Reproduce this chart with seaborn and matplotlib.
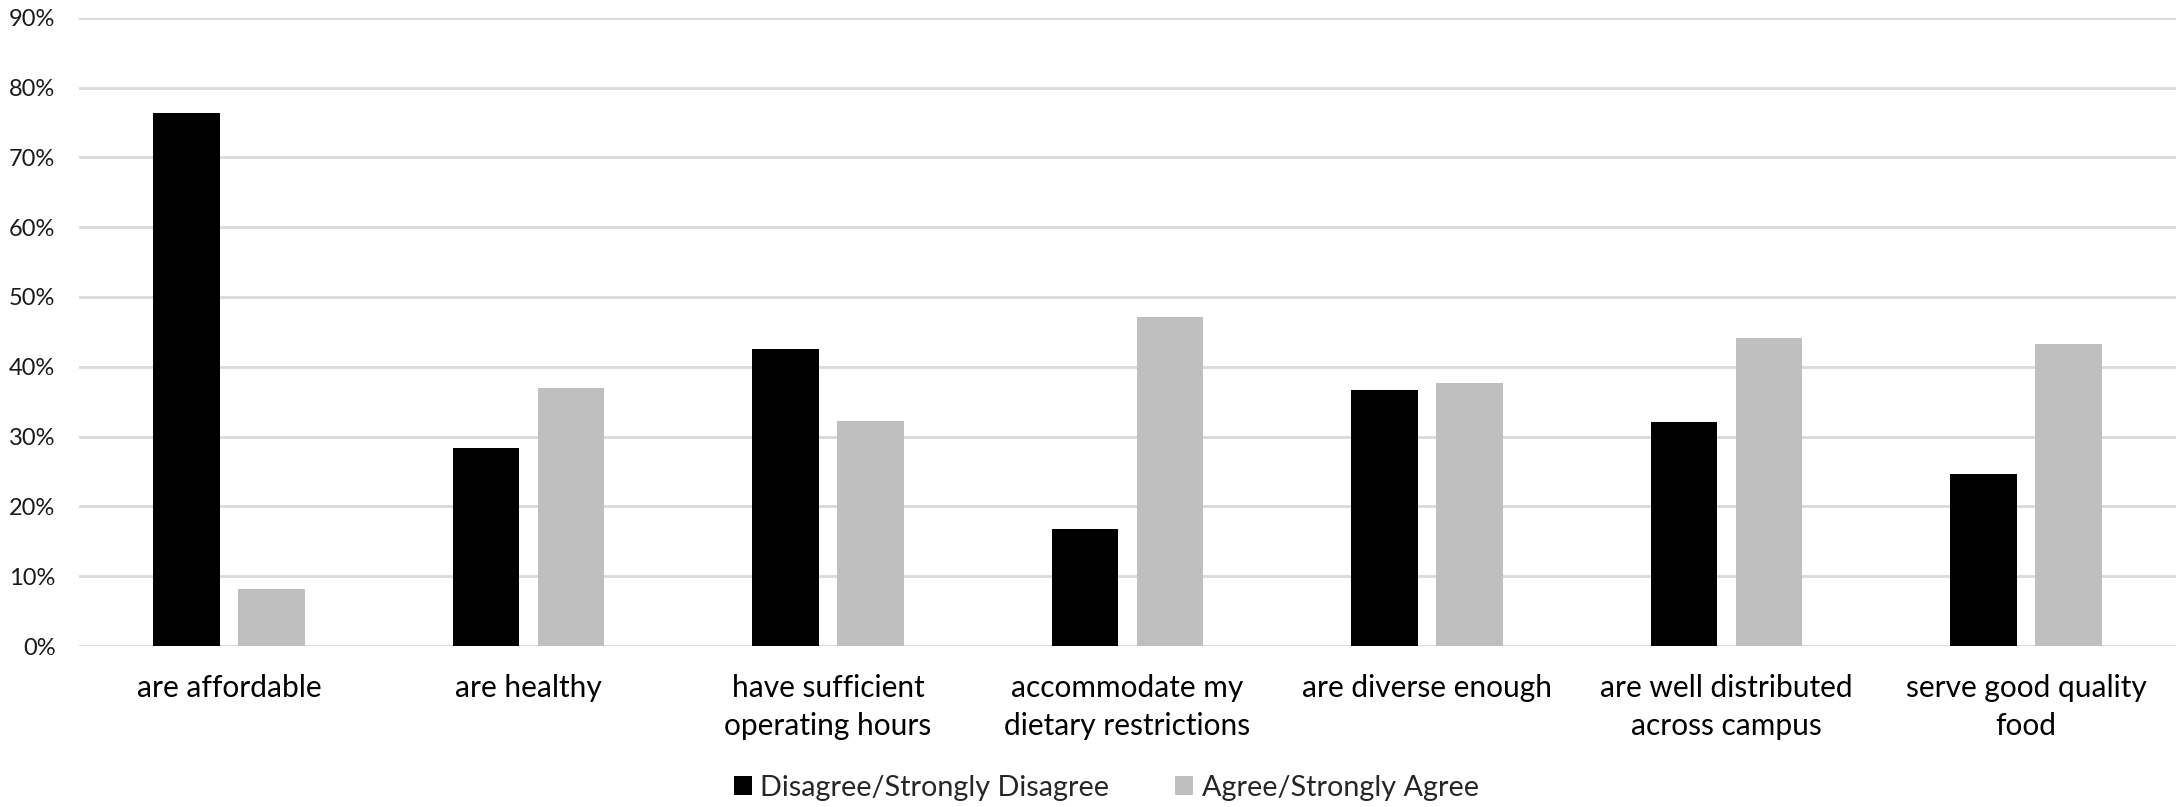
import matplotlib
matplotlib.use("Agg")
import matplotlib.pyplot as plt
import seaborn as sns
import pandas as pd
from matplotlib.ticker import PercentFormatter, MultipleLocator

categories = [
    "are affordable",
    "are healthy",
    "have sufficient\noperating hours",
    "accommodate my\ndietary restrictions",
    "are diverse enough",
    "are well distributed\nacross campus",
    "serve good quality\nfood",
]
disagree = [76.4, 28.3, 42.5, 16.7, 36.7, 32.1, 24.6]
agree = [8.1, 36.9, 32.3, 47.1, 37.7, 44.1, 43.2]
series_names = ["Disagree/Strongly Disagree", "Agree/Strongly Agree"]
colors = ["#000000", "#bfbfbf"]

df = pd.DataFrame({
    "category": categories * 2,
    "value": disagree + agree,
    "series": [series_names[0]] * len(categories) + [series_names[1]] * len(categories),
})

sns.set_theme(style="white")
plt.rcParams["font.family"] = ["Lato", "DejaVu Sans"]

fig = plt.figure(figsize=(21.78, 8.07), dpi=100)
ax = fig.add_axes([0.0363, 0.1995, 0.9627, 0.7785])

sns.barplot(data=df, x="category", y="value", hue="series", order=categories,
            hue_order=series_names, palette=colors, width=0.568, gap=0.218,
            saturation=1, edgecolor="none", linewidth=0, ax=ax, legend=True)

ax.set_ylim(0, 90)
ax.set_xlim(-0.5, len(categories) - 0.5)
ax.yaxis.set_major_locator(MultipleLocator(10))
ax.yaxis.set_major_formatter(PercentFormatter(100, decimals=0))
ax.grid(axis="y", color="#d9d9d9", linewidth=2)
ax.set_axisbelow(True)
for s in ax.spines.values():
    s.set_visible(False)
ax.set_xlabel("")
ax.set_ylabel("")
ax.tick_params(axis="y", length=0, pad=17, labelsize=17, labelcolor="#1a1a1a")
ax.tick_params(axis="x", length=0, pad=20, labelsize=21.5, labelcolor="#000000")
for lbl in ax.get_xticklabels():
    lbl.set_linespacing(1.45)

handles, labels = ax.get_legend_handles_labels()
ax.legend_.remove()
fig.legend(handles, labels, loc="center", bbox_to_anchor=(0.508, 0.024), ncol=2,
           frameon=False, fontsize=20.7, handlelength=0.62, handleheight=0.62,
           handletextpad=0.3, columnspacing=2.3, borderpad=0)

fig.savefig("out.png", dpi=100, facecolor="white")
